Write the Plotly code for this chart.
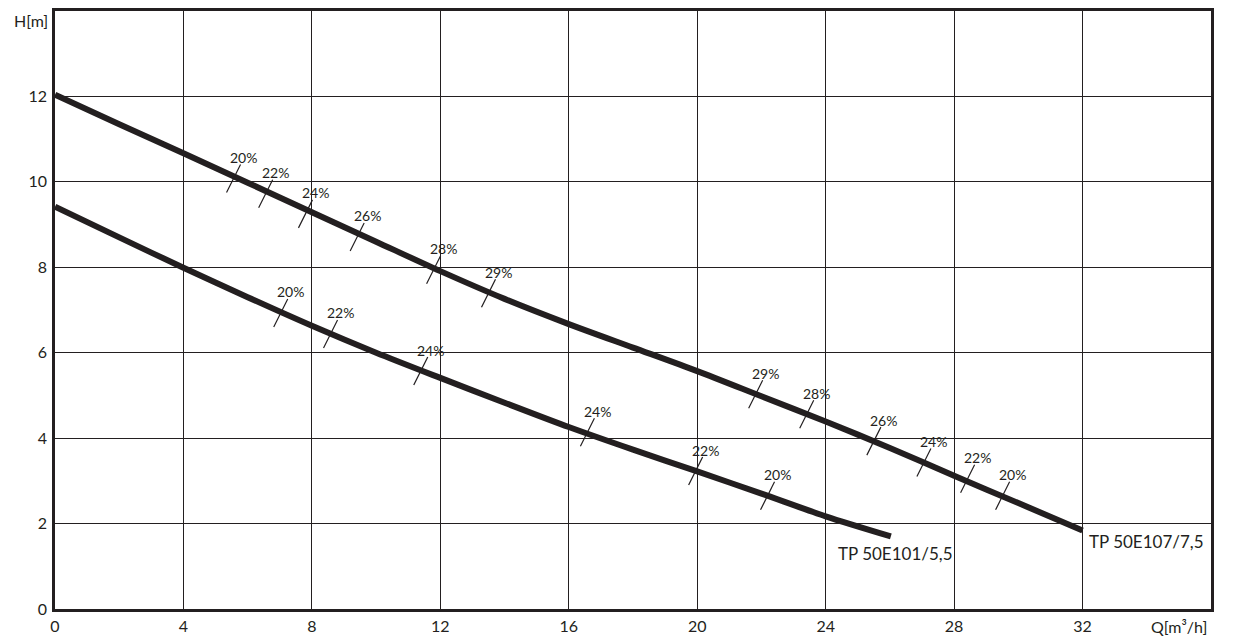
import plotly.graph_objects as go

# ---- data ----
q_upper = [0, 2, 4, 6, 8, 10, 12, 14, 16, 18, 20, 22, 24, 26, 28, 30, 32]
h_upper = [12.04, 11.35, 10.67, 9.98, 9.29, 8.60, 7.91, 7.26, 6.67, 6.12, 5.57, 4.98, 4.39, 3.77, 3.12, 2.48, 1.84]

q_lower = [0, 2, 4, 6, 8, 10, 12, 14, 16, 18, 20, 22, 24, 26.03]
h_lower = [9.42, 8.70, 7.99, 7.30, 6.63, 6.00, 5.41, 4.83, 4.26, 3.73, 3.22, 2.70, 2.17, 1.70]

upper_eff_q = [5.56, 6.56, 7.80, 9.41, 11.79, 13.50, 21.82, 23.41, 25.50, 27.06, 28.42, 29.51]
upper_eff_h = [10.08, 9.72, 9.25, 8.71, 7.94, 7.39, 5.03, 4.56, 3.93, 3.43, 3.05, 2.65]
upper_eff_lbl = ["20%", "22%", "24%", "26%", "28%", "29%", "29%", "28%", "26%", "24%", "22%", "20%"]

lower_eff_q = [7.03, 8.58, 11.39, 16.58, 19.95, 22.19]
lower_eff_h = [6.93, 6.44, 5.57, 4.14, 3.23, 2.65]
lower_eff_lbl = ["20%", "22%", "24%", "24%", "22%", "20%"]

curve_names = ["TP 50E107/7,5", "TP 50E101/5,5"]
x_ticks = [0, 4, 8, 12, 16, 20, 24, 28, 32]
y_ticks = [0, 2, 4, 6, 8, 10, 12]

INK = "#231f20"
FONT = "Lato"

fig = go.Figure()
for qs, hs in [(q_upper, h_upper), (q_lower, h_lower)]:
    fig.add_trace(go.Scatter(x=qs, y=hs, mode="lines",
                             line=dict(color=INK, width=6, shape="spline", smoothing=0.8),
                             hoverinfo="skip", showlegend=False))

shapes = []
annotations = []
for qs, hs, lbls in [(upper_eff_q, upper_eff_h, upper_eff_lbl), (lower_eff_q, lower_eff_h, lower_eff_lbl)]:
    for q, h, lb in zip(qs, hs, lbls):
        shapes.append(dict(type="line", xref="x", yref="y", xsizemode="pixel", ysizemode="pixel",
                           xanchor=q, yanchor=h, x0=-7, x1=7, y0=-14, y1=14,
                           line=dict(color=INK, width=1.2)))
        annotations.append(dict(x=q, y=h, xref="x", yref="y", text=lb, showarrow=False,
                                xshift=10, yshift=21, xanchor="center", yanchor="middle",
                                font=dict(family=FONT, size=14, color=INK)))

# curve name labels anchored at curve ends
annotations.append(dict(x=q_upper[-1], y=h_upper[-1], xref="x", yref="y", text=curve_names[0],
                        showarrow=False, xanchor="left", yanchor="middle", xshift=4, yshift=-11,
                        font=dict(family=FONT, size=17, color=INK)))
annotations.append(dict(x=q_lower[-1], y=h_lower[-1], xref="x", yref="y", text=curve_names[1],
                        showarrow=False, xanchor="left", yanchor="middle", xshift=-55, yshift=-17,
                        font=dict(family=FONT, size=17, color=INK)))

# axis titles
annotations.append(dict(x=0, y=14, xref="x", yref="y", text="H[m]", showarrow=False,
                        xanchor="right", yanchor="middle", xshift=-5, yshift=-9,
                        font=dict(family=FONT, size=16, color=INK)))
annotations.append(dict(x=36, y=0, xref="x", yref="y", text="Q[m³/h]", showarrow=False,
                        xanchor="right", yanchor="middle", xshift=-2, yshift=-17,
                        font=dict(family=FONT, size=16, color=INK)))

fig.update_layout(
    width=1236, height=638,
    margin=dict(l=46.5, r=33.3, t=0, b=37),
    paper_bgcolor="white", plot_bgcolor="white",
    shapes=shapes, annotations=annotations,
    font=dict(family=FONT, size=16, color=INK),
)
fig.update_xaxes(range=[0, 36], tickvals=x_ticks, showgrid=True, gridcolor=INK, gridwidth=1,
                 showline=True, linecolor=INK, linewidth=2.5, mirror=True, zeroline=False,
                 ticks="", ticklabelstandoff=1, tickfont=dict(family=FONT, size=16, color=INK))
fig.update_yaxes(range=[0, 14], tickvals=y_ticks, showgrid=True, gridcolor=INK, gridwidth=1,
                 showline=True, linecolor=INK, linewidth=2.5, mirror=True, zeroline=False,
                 ticks="", ticklabelstandoff=2, tickfont=dict(family=FONT, size=16, color=INK))

fig.write_html("out.html")
